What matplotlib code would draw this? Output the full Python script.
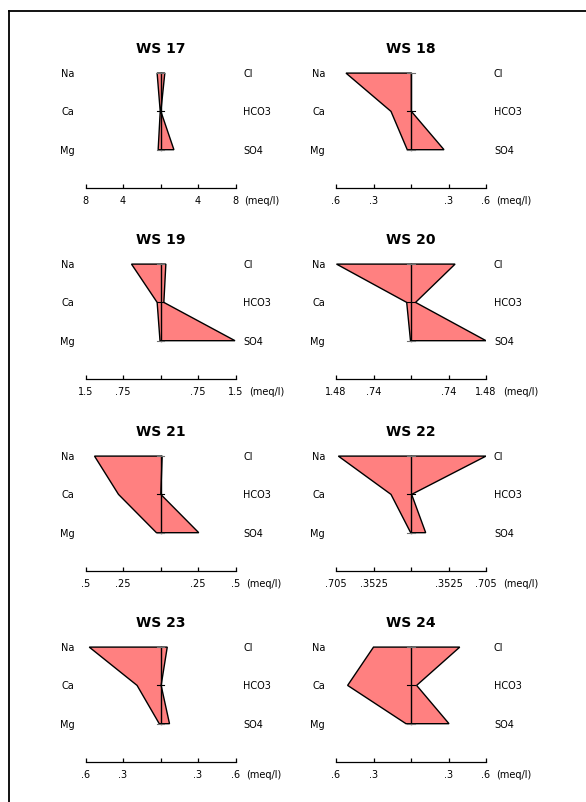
"""Stiff diagrams for the WS 17-24 water samples (major ions in meq/l)."""
import matplotlib

matplotlib.use("Agg")
import matplotlib.pyplot as plt
from matplotlib.lines import Line2D

plt.rcParams["font.family"] = ["DejaVu Sans"]

SAMPLES = ["WS 17", "WS 18", "WS 19", "WS 20", "WS 21", "WS 22", "WS 23", "WS 24"]

# cations (left side)
NA = [0.36, 0.52, 0.58, 1.47, 0.44, 0.683, 0.57, 0.30]
CA = [0.03, 0.16, 0.067, 0.085, 0.28, 0.188, 0.1875, 0.507]
MG = [0.25, 0.03, 0.01, 0.01, 0.027, 0.003, 0.01, 0.04]
# anions (right side)
CL = [0.46, 0.003, 0.107, 0.87, 0.011, 0.705, 0.054, 0.39]
HCO3 = [0.04, 0.003, 0.067, 0.09, 0.002, 0.006, 0.005, 0.045]
SO4 = [1.43, 0.264, 1.49, 1.48, 0.255, 0.138, 0.072, 0.304]

# half-width of each horizontal scale and its tick labels
SCALE_MAX = [8, 0.6, 1.5, 1.48, 0.5, 0.705, 0.6, 0.6]
SCALE_LABELS = [
    ["8", "4", "", "4", "8"],
    [".6", ".3", "", ".3", ".6"],
    ["1.5", ".75", "", ".75", "1.5"],
    ["1.48", ".74", "", ".74", "1.48"],
    [".5", ".25", "", ".25", ".5"],
    [".705", ".3525", "", ".3525", ".705"],
    [".6", ".3", "", ".3", ".6"],
    [".6", ".3", "", ".3", ".6"],
]

CATIONS = ["Na", "Ca", "Mg"]
ANIONS = ["Cl", "HCO3", "SO4"]

W, H = 586, 803
fig = plt.figure(figsize=(W / 100, H / 100), dpi=100)

# frame (left and top edges)
fig.add_artist(Line2D([9.5 / W, 9.5 / W], [0, 1 - 12 / H], color="black", lw=1.3))
fig.add_artist(Line2D([9.5 / W, 1], [1 - 12 / H, 1 - 12 / H], color="black", lw=1.3))

COL_LEFT = [85.5, 336]   # px, left end of the scale bar
ROW_AXIS = [189, 380, 572, 763]  # px from top, y of the scale bar
UNIT = 38.3  # px per ion row
PANEL_W = 150

axes = []
for i, name in enumerate(SAMPLES):
    r, c = divmod(i, 2)
    left = COL_LEFT[c] / W
    bottom = 1 - ROW_AXIS[r] / H
    ax = fig.add_axes([left, bottom, PANEL_W / W, 4 * UNIT / H])
    m = SCALE_MAX[i]

    xs = [-NA[i], -CA[i], -MG[i], SO4[i], HCO3[i], CL[i]]
    ys = [3, 2, 1, 1, 2, 3]
    ax.fill(xs, ys, facecolor="#ff8080", edgecolor="black", lw=1.0, zorder=2)
    ax.plot([0, 0], [1, 3], color="black", lw=1.0, zorder=3)
    # short cross ticks on the zero line, one per ion row
    t = 0.047 * m
    for y, col in ((1, "#707070"), (2, "black"), (3, "#707070")):
        ax.plot([-t, t], [y, y], color=col, lw=0.8, zorder=3)

    ax.set_xlim(-m, m)
    ax.set_ylim(0, 4)
    ax.set_xticks([-m, -m / 2, 0, m / 2, m])
    ax.set_xticklabels(SCALE_LABELS[i])
    ax.set_yticks([])
    for side in ("top", "left", "right"):
        ax.spines[side].set_visible(False)
    ax.spines["bottom"].set_linewidth(0.9)
    ax.patch.set_alpha(0)
    ax.tick_params(axis="x", direction="in", length=3, width=0.9, pad=5, labelsize=7)

    ax.text(0, 3.66, name, ha="center", va="center", fontsize=10, fontweight="bold")
    for y, cat, an in zip((3, 2, 1), CATIONS, ANIONS):
        ax.annotate(cat, xy=(0, y), xycoords=("axes fraction", "data"), xytext=(-11, 0),
                    textcoords="offset pixels", ha="right", va="center", fontsize=7)
        ax.annotate(an, xy=(1, y), xycoords=("axes fraction", "data"), xytext=(8, 0),
                    textcoords="offset pixels", ha="left", va="center", fontsize=7)
    axes.append(ax)

# unit text just after the right-hand scale label
fig.canvas.draw()
renderer = fig.canvas.get_renderer()
for ax in axes:
    lbl = ax.get_xticklabels()[-1]
    bb = lbl.get_window_extent(renderer)
    fig.text((bb.x1 + 6) / W, (bb.y0 + bb.y1) / 2 / H, "(meq/l)", ha="left", va="center", fontsize=7)

fig.savefig("out.png", dpi=100)
